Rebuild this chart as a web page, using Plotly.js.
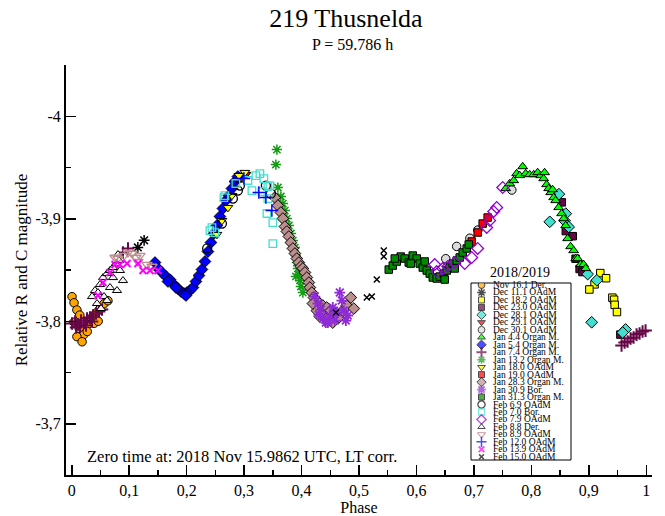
<!DOCTYPE html>
<html><head><meta charset="utf-8">
<script src="https://cdn.plot.ly/plotly-3.0.1.min.js"></script>
<style>html,body{margin:0;padding:0;background:#fff;}#chart{width:665px;height:516px;}</style>
</head><body><div id="chart"></div>
<script>
// ---------------- DATA ----------------
const SESSION_LABELS = ["Nov 16.1 Der.","Dec 11.1 OAdM","Dec 18.2 OAdM","Dec 23.0 OAdM","Dec 28.1 OAdM","Dec 29.1 OAdM","Dec 30.1 OAdM","Jan 4.4 Organ M.","Jan 5.4 Organ M.","Jan 7.4 Organ M.","Jan 13.2 Organ M.","Jan 18.0 OAdM","Jan 19.0 OAdM","Jan 28.3 Organ M.","Jan 30.9 Bor.","Jan 31.3 Organ M.","Feb 6.9 OAdM","Feb 7.0 Bor.","Feb 7.9 OAdM","Feb 8.8 Der.","Feb 8.9 OAdM","Feb 12.0 OAdM","Feb 13.9 OAdM","Feb 15.0 OAdM"];

const nov16_phase = [0.0005,0.004,0.009,0.014,0.004,0.013,0.021,0.009,0.018,0.028,0.035,0.042,0.049,0.056,0.039,0.063,0.027,0.046];
const nov16_mag   = [-3.824,-3.818,-3.811,-3.806,-3.799,-3.793,-3.787,-3.785,-3.780,-3.797,-3.803,-3.808,-3.812,-3.817,-3.798,-3.820,-3.790,-3.800];

const dec11_phase = [0.126,0.115];
const dec11_mag   = [-3.879,-3.872];

const dec18_phase = [0.920,0.930,0.910,0.901,0.941,0.944,0.945,0.949];
const dec18_mag   = [-3.847,-3.842,-3.836,-3.831,-3.823,-3.821,-3.816,-3.809];

const dec23_phase = [0.853,0.860,0.872,0.877,0.884,0.955,0.889];
const dec23_mag   = [-3.916,-3.888,-3.883,-3.861,-3.851,-3.787,-3.848];

const dec28_phase = [0.848,0.860,0.832,0.858,0.865,0.898,0.914,0.905,0.964,0.959];
const dec28_mag   = [-3.924,-3.905,-3.897,-3.898,-3.892,-3.846,-3.840,-3.799,-3.792,-3.789];

const dec29_phase = [0.3032,0.2945];
const dec29_mag   = [-3.9431,-3.9392];

const dec30_phase = [0.651,0.670,0.693,0.707,0.766];
const dec30_mag   = [-3.861,-3.873,-3.881,-3.889,-3.928];

const jan04_phase = [0.7553,0.7623,0.7692,0.7744,0.7797,0.7849,0.7901,0.7971,0.8040,0.8110,0.8162,0.8214,0.8266,0.8301,0.8336,0.8388,0.8423,0.8475,0.8527,0.8562,0.8597,0.8631,0.8683,0.8736,0.8771,0.8805,0.8857,0.8910,0.8945,0.8370,0.8231];
const jan04_mag   = [-3.9295,-3.9344,-3.9373,-3.9441,-3.9422,-3.9509,-3.9441,-3.9431,-3.9431,-3.9451,-3.9422,-3.9392,-3.9334,-3.9295,-3.9256,-3.9207,-3.9178,-3.9110,-3.9051,-3.9002,-3.8934,-3.8807,-3.8729,-3.8690,-3.8612,-3.8612,-3.8554,-3.8554,-3.8515,-3.9285,-3.9451];

const jan05_phase = [0.1449,0.1501,0.1571,0.1640,0.1710,0.1779,0.1849,0.1901,0.1953,0.2005,0.2058,0.2110,0.2162,0.2214,0.2266,0.2319,0.2371,0.2423,0.2475,0.2527,0.2579,0.2631,0.2684,0.2736,0.2788,0.2840,0.2892,0.1675,0.1814,0.1988];
const jan05_mag   = [-3.8573,-3.8515,-3.8476,-3.8437,-3.8407,-3.8358,-3.8319,-3.8290,-3.8271,-3.8280,-3.8300,-3.8329,-3.8388,-3.8446,-3.8505,-3.8583,-3.8680,-3.8768,-3.8856,-3.8934,-3.9022,-3.9100,-3.9178,-3.9227,-3.9295,-3.9363,-3.9412,-3.8388,-3.8329,-3.8251];

const jan07_phase = [0.0005,0.0058,0.0110,0.0162,0.0214,0.0266,0.0318,0.0370,0.0423,0.0475,0.0527,0.0075,0.0144,0.0249,0.0353,0.0892,0.0979,0.9570,0.9623,0.9675,0.9727,0.9779,0.9831,0.9884,0.9936,0.9988];
const jan07_mag   = [-3.7978,-3.7997,-3.7968,-3.8007,-3.7987,-3.8026,-3.8036,-3.8056,-3.8075,-3.8095,-3.8114,-3.7939,-3.7948,-3.7958,-3.7997,-3.8671,-3.8709,-3.7763,-3.7792,-3.7802,-3.7831,-3.7841,-3.7870,-3.7880,-3.7900,-3.7909];

const jan13_phase = [0.3571,0.3553,0.3588,0.3640,0.3675,0.3710,0.3744,0.3779,0.3814,0.3849,0.3884,0.3901,0.3918,0.3936,0.3953,0.3971,0.3988,0.4023,0.3901];
const jan13_mag   = [-3.9675,-3.9529,-3.9305,-3.9217,-3.9148,-3.9080,-3.9002,-3.8934,-3.8856,-3.8787,-3.8719,-3.8641,-3.8573,-3.8515,-3.8456,-3.8398,-3.8339,-3.8280,-3.8437];

const jan18_phase = [0.3014,0.2910,0.2788,0.2614,0.2527,0.2719];
const jan18_mag   = [-3.9451,-3.9421,-3.9226,-3.8982,-3.8846,-3.9109];

const jan19_phase = [0.6962,0.7066,0.7153,0.7240];
const jan19_mag   = [-3.8778,-3.8866,-3.8953,-3.9012];

const jan28_phase = [0.3536,0.3588,0.3640,0.3675,0.3710,0.3744,0.3779,0.3814,0.3849,0.3884,0.3918,0.3953,0.3988,0.4023,0.4058,0.4092,0.4127,0.4145,0.4179,0.4214,0.4266,0.4318,0.4370,0.4440,0.4510,0.4579,0.4649,0.4718,0.4788,0.4858,0.4910,0.4266,0.4318,0.4197,0.4423,0.4544];
const jan28_mag   = [-3.9207,-3.9129,-3.9061,-3.9002,-3.8924,-3.8876,-3.8827,-3.8768,-3.8710,-3.8661,-3.8612,-3.8573,-3.8534,-3.8515,-3.8476,-3.8427,-3.8378,-3.8329,-3.8280,-3.8231,-3.8202,-3.8173,-3.8153,-3.8134,-3.8104,-3.8075,-3.8036,-3.8104,-3.8153,-3.8231,-3.8124,-3.8104,-3.8046,-3.8173,-3.8026,-3.7987];

const jan30_phase = [0.4231,0.4284,0.4336,0.4370,0.4423,0.4492,0.4544,0.4614,0.4666,0.4701,0.4736,0.4771,0.4805,0.4458,0.4301,0.4579];
const jan30_mag   = [-3.8241,-3.8173,-3.8114,-3.8026,-3.7987,-3.8056,-3.8134,-3.8085,-3.8280,-3.8202,-3.8104,-3.8007,-3.8056,-3.7987,-3.8065,-3.8007];

const jan31_phase = [0.5518,0.5588,0.5657,0.5727,0.5797,0.5866,0.5936,0.6005,0.6057,0.6110,0.6179,0.6231,0.6284,0.6353,0.6405,0.6475,0.6527,0.6579,0.6631,0.6701,0.6753,0.6805,0.6875,0.6910,0.5623,0.5901,0.6144,0.6492,0.6666];
const jan31_mag   = [-3.8504,-3.8543,-3.8582,-3.8631,-3.8612,-3.8573,-3.8641,-3.8612,-3.8563,-3.8524,-3.8495,-3.8465,-3.8427,-3.8417,-3.8436,-3.8465,-3.8495,-3.8524,-3.8563,-3.8592,-3.8622,-3.8671,-3.8710,-3.8749,-3.8612,-3.8563,-3.8583,-3.8407,-3.8515];

const feb06_phase = [0.2357,0.2614,0.2805,0.2892,0.2927,0.3466,0.3379];
const feb06_mag   = [-3.8710,-3.8953,-3.9197,-3.9275,-3.9324,-3.9246,-3.9324];

const feb07b_phase = [0.3066,0.3136,0.3205,0.3275,0.3344,0.3414,0.3449,0.3310,0.3414,0.3397,0.3501,0.3501,0.2405,0.2440,0.2649,0.2666,0.2857,0.2492];
const feb07b_mag   = [-3.9373,-3.9275,-3.9421,-3.9441,-3.9392,-3.9314,-3.9324,-3.9265,-3.9197,-3.9051,-3.8963,-3.8758,-3.8885,-3.8914,-3.9207,-3.9226,-3.9344,-3.8865];

const feb07o_phase = [0.6318,0.6353,0.6457,0.6544,0.6666,0.6840,0.6962,0.7066,0.7223,0.7275,0.7344,0.7397,0.7501];
const feb07o_mag   = [-3.8553,-3.8485,-3.8514,-3.8534,-3.8573,-3.8563,-3.8622,-3.8710,-3.8915,-3.8983,-3.9071,-3.9110,-3.9305];

const feb08d_phase = [0.0353,0.0405,0.0440,0.0492,0.0510,0.0545,0.0562,0.0614,0.0614,0.0666,0.0666,0.0718,0.0718,0.0771,0.0788,0.0805,0.0840,0.0892,0.0457,0.0823];
const feb08d_mag   = [-3.8241,-3.8300,-3.8173,-3.8358,-3.8124,-3.8426,-3.8241,-3.8465,-3.8202,-3.8495,-3.8329,-3.8524,-3.8426,-3.8563,-3.8300,-3.8651,-3.8495,-3.8397,-3.8280,-3.8593];

const feb08o_phase = [0.0753,0.0805,0.0910,0.0979,0.1049,0.1118,0.1188,0.1153,0.1310,0.1397];
const feb08o_mag   = [-3.8622,-3.8612,-3.8641,-3.8671,-3.8661,-3.8622,-3.8641,-3.8582,-3.8553,-3.8534];

const feb12_phase = [0.3257,0.3379,0.3483,0.2997];
const feb12_mag   = [-3.9256,-3.9207,-3.9080,-3.9392];

const feb13_phase = [0.0457,0.0544,0.0666,0.0753,0.0840,0.0962,0.1153,0.1240,0.1362,0.1501];
const feb13_mag   = [-3.8251,-3.8378,-3.8476,-3.8554,-3.8554,-3.8563,-3.8563,-3.8495,-3.8495,-3.8495];

const feb15_phase = [0.5431,0.5431,0.5310,0.5136,0.5223,0.4597];
const feb15_mag   = [-3.8690,-3.8632,-3.8407,-3.8231,-3.8241,-3.8085];

const SERIES_PHASE = [nov16_phase,dec11_phase,dec18_phase,dec23_phase,dec28_phase,dec29_phase,dec30_phase,jan04_phase,jan05_phase,jan07_phase,jan13_phase,jan18_phase,jan19_phase,jan28_phase,jan30_phase,jan31_phase,feb06_phase,feb07b_phase,feb07o_phase,feb08d_phase,feb08o_phase,feb12_phase,feb13_phase,feb15_phase];
const SERIES_MAG = [nov16_mag,dec11_mag,dec18_mag,dec23_mag,dec28_mag,dec29_mag,dec30_mag,jan04_mag,jan05_mag,jan07_mag,jan13_mag,jan18_mag,jan19_mag,jan28_mag,jan30_mag,jan31_mag,feb06_mag,feb07b_mag,feb07o_mag,feb08d_mag,feb08o_mag,feb12_mag,feb13_mag,feb15_mag];

const Y_TICK_VALUES = [-4,-3.9,-3.8,-3.7];
const Y_TICK_TEXT = ["-4","-3,9","-3,8","-3,7"];

// ---------------- STYLES ----------------
const STYLES = [
  {s:'circle', c:'#FFA500', lc:'#000', lw:1, z:8.5},
  {s:'asterisk-open', c:'#000', lc:'#000', lw:1.5, z:9},
  {s:'square', c:'#FFFF00', lc:'#000', lw:1, z:7.5},
  {s:'square', c:'#670748', lc:'#000', lw:1, z:7.5},
  {s:'diamond', c:'#40E0D0', lc:'#000', lw:1, z:9},
  {s:'triangle-down', c:'#FF0000', lc:'#000', lw:1, z:8.5},
  {s:'circle', c:'#DCDCDC', lc:'#000', lw:1, z:8.5},
  {s:'triangle-up', c:'#00FF00', lc:'#000', lw:1, z:8.5},
  {s:'diamond', c:'#0000FF', lc:'#000', lw:1, z:9},
  {s:'cross-thin-open', c:'#670748', lc:'#670748', lw:2, z:9},
  {s:'asterisk-open', c:'#129A12', lc:'#129A12', lw:1.5, z:8.5},
  {s:'triangle-down', c:'#FFFF00', lc:'#000', lw:1, z:8.5},
  {s:'square', c:'#FF0000', lc:'#000', lw:1, z:7.5},
  {s:'diamond', c:'#BC8F8F', lc:'#000', lw:1, z:9},
  {s:'asterisk-open', c:'#8E2AD6', lc:'#8E2AD6', lw:1.8, z:9},
  {s:'square', c:'#008B00', lc:'#000', lw:1, z:7.5},
  {s:'circle-open', c:'#000', lc:'#000', lw:1.3, z:9},
  {s:'square-open', c:'#40E0D0', lc:'#40E0D0', lw:1.3, z:7.5},
  {s:'diamond-open', c:'#9400D3', lc:'#9400D3', lw:1.3, z:9},
  {s:'triangle-up', c:'#F4F4F4', lc:'#000', lw:1, z:8},
  {s:'triangle-down-open', c:'#BC8F8F', lc:'#BC8F8F', lw:1.3, z:9},
  {s:'cross-thin-open', c:'#0000FF', lc:'#0000FF', lw:1.5, z:9},
  {s:'x-thin-open', c:'#FF00FF', lc:'#FF00FF', lw:2, z:7},
  {s:'x-thin-open', c:'#000', lc:'#000', lw:1.5, z:6}
];

// ---------------- GEOMETRY (px) ----------------
const W = 665, H = 516;
const M = {l:66, r:13, t:65, b:41};
const PW = W - M.l - M.r, PH = H - M.t - M.b;
const px2paperX = px => (px - M.l) / PW;
const py2paperY = py => (H - M.b - py) / PH;
const FONT = '"Liberation Serif", "Times New Roman", serif';

// ---------------- TRACES ----------------
const traces = SESSION_LABELS.map((name, i) => ({
  type:'scatter', mode:'markers', name:name,
  x: SERIES_PHASE[i], y: SERIES_MAG[i],
  xaxis:'x', yaxis:'y', showlegend:false, hoverinfo:'skip',
  marker:{symbol:STYLES[i].s, color:STYLES[i].c, size:STYLES[i].z,
          line:{color:STYLES[i].lc, width:STYLES[i].lw}}
}));

// legend markers drawn on their own small axes (one row per session)
const rowIndex = SESSION_LABELS.map((_, i) => i);
traces.push({
  type:'scatter', mode:'markers', xaxis:'x3', yaxis:'y3', showlegend:false, hoverinfo:'skip',
  x: rowIndex.map(() => 10.5), y: rowIndex,
  marker:{symbol:STYLES.map(s => s.s), color:STYLES.map(s => s.c),
          size:STYLES.map(s => s.z * 0.8),
          line:{color:STYLES.map(s => s.lc), width:STYLES.map(s => s.lw)}}
});

const annotations = SESSION_LABELS.map((lab, i) => ({
  xref:'x3', yref:'y3', x:19.5, y:i, text:lab, showarrow:false,
  xanchor:'left', yanchor:'middle', font:{family:FONT, size:9.5, color:'#000'}
}));
annotations.push({xref:'paper', yref:'paper', x:px2paperX(520), y:py2paperY(272.5), text:'2018/2019',
  showarrow:false, xanchor:'center', yanchor:'middle', font:{family:FONT, size:14, color:'#000'}});
annotations.push({xref:'paper', yref:'paper', x:px2paperX(241.5), y:py2paperY(456), text:'Zero time at: 2018 Nov 15.9862 UTC, LT corr.',
  showarrow:false, xanchor:'center', yanchor:'middle', font:{family:FONT, size:16.5, color:'#000'}});
annotations.push({xref:'paper', yref:'paper', x:px2paperX(352), y:py2paperY(45), text:'P = 59.786 h',
  showarrow:false, xanchor:'center', yanchor:'middle', font:{family:FONT, size:16, color:'#000'}});

const XR = [-0.01, 1.01], YR = [-3.65, -4.05];
const layout = {
  width:W, height:H, margin:M,
  paper_bgcolor:'#fff', plot_bgcolor:'rgba(0,0,0,0)',
  separators:', ',
  showlegend:false,
  font:{family:FONT, size:16, color:'#000'},
  title:{text:'219 Thusnelda', font:{family:FONT, size:26, color:'#000'},
         x:346/W, xanchor:'center', y:1-18/H, yanchor:'middle'},
  xaxis:{range:XR, domain:[0,1], anchor:'y', tickmode:'linear', tick0:0, dtick:0.1,
         ticks:'inside', ticklen:10, tickwidth:1.5, tickcolor:'#000',
         minor:{tick0:0, dtick:0.05, ticks:'inside', ticklen:5, tickwidth:1.5, tickcolor:'#000'},
         showline:true, linecolor:'#000', linewidth:2, showgrid:false, zeroline:false,
         tickfont:{family:FONT, size:16, color:'#000'},
         title:{text:'Phase', font:{family:FONT, size:16, color:'#000'}, standoff:5}},
  xaxis2:{range:XR, overlaying:'x', side:'top', anchor:'y', tickmode:'linear', tick0:0, dtick:0.05,
          ticks:'inside', ticklen:8, tickwidth:1.5, tickcolor:'#000', showticklabels:false,
          showline:true, linecolor:'#000', linewidth:2, showgrid:false, zeroline:false},
  yaxis:{range:YR, domain:[0,1], anchor:'x', tickmode:'array', tickvals:Y_TICK_VALUES, ticktext:Y_TICK_TEXT,
         ticks:'inside', ticklen:10, tickwidth:1.5, tickcolor:'#000',
         minor:{tickmode:'linear', tick0:-4, dtick:0.05, ticks:'inside', ticklen:5, tickwidth:1.5, tickcolor:'#000'},
         showline:true, linecolor:'#000', linewidth:2, showgrid:false, zeroline:false,
         tickfont:{family:FONT, size:16, color:'#000'},
         title:{text:'Relative R and C magnitude', font:{family:FONT, size:17, color:'#000'}, standoff:4}},
  yaxis2:{range:YR, overlaying:'y', side:'right', anchor:'x', tickmode:'linear', tick0:-4, dtick:0.05,
          ticks:'inside', ticklen:8, tickwidth:1.5, tickcolor:'#000', showticklabels:false,
          showline:true, linecolor:'#000', linewidth:2, showgrid:false, zeroline:false},
  xaxis3:{domain:[px2paperX(471), px2paperX(571)], range:[0,100], anchor:'y3', visible:false, fixedrange:true},
  yaxis3:{domain:[py2paperY(460), py2paperY(283)], range:[23.43, -0.27], anchor:'x3', visible:false, fixedrange:true},
  shapes:[{type:'rect', xref:'paper', yref:'paper', layer:'below',
           x0:px2paperX(471), x1:px2paperX(571), y0:py2paperY(460), y1:py2paperY(283),
           line:{color:'#000', width:1}, fillcolor:'#fff'}],
  annotations:annotations
};

Plotly.newPlot('chart', traces, layout, {staticPlot:true, displayModeBar:false});
</script>
</body></html>
